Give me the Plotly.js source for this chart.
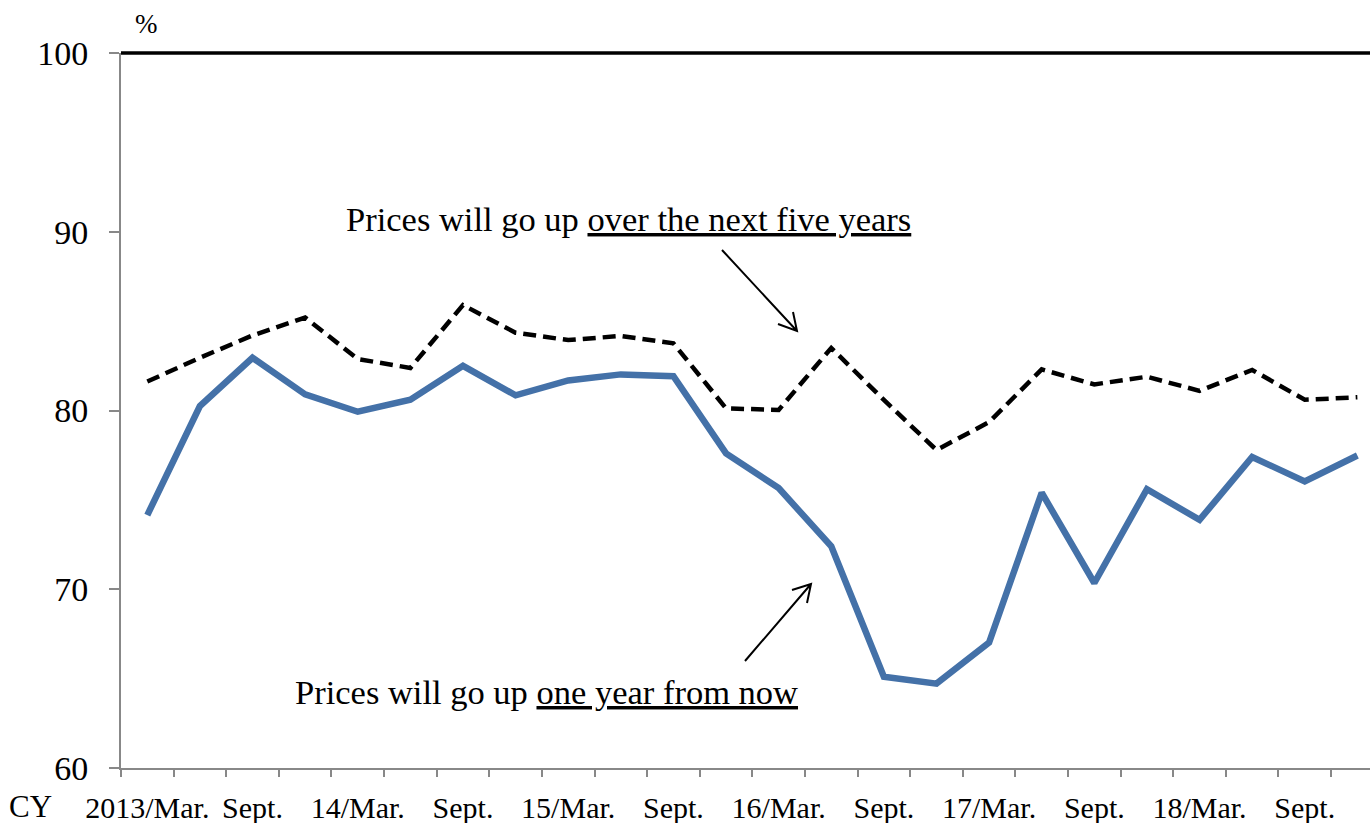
<!DOCTYPE html>
<html><head><meta charset="utf-8">
<script src="https://cdn.plot.ly/plotly-3.0.1.min.js"></script>
<style>html,body{margin:0;padding:0;background:#fff;}#chart{width:1370px;height:823px;}</style>
</head><body><div id="chart"></div>
<script>
// Quarterly survey periods, 2013 Q1 (Mar.) to 2018 Q4 (Dec.)
const periods = ["2013/Mar.","2013/Jun.","2013/Sept.","2013/Dec.",
  "2014/Mar.","2014/Jun.","2014/Sept.","2014/Dec.",
  "2015/Mar.","2015/Jun.","2015/Sept.","2015/Dec.",
  "2016/Mar.","2016/Jun.","2016/Sept.","2016/Dec.",
  "2017/Mar.","2017/Jun.","2017/Sept.","2017/Dec.",
  "2018/Mar.","2018/Jun.","2018/Sept.","2018/Dec."];
const oneYearFromNow = [74.15, 80.25, 82.95, 80.9, 79.93, 80.6, 82.5, 80.85,
  81.68, 82.02, 81.92, 77.6, 75.66, 72.4, 65.1, 64.72,
  67.02, 75.4, 70.35, 75.6, 73.88, 77.4, 76.03, 77.48];
const overNextFiveYears = [81.62, 82.95, 84.2, 85.2, 82.88, 82.38, 85.9, 84.35,
  83.94, 84.17, 83.76, 80.12, 80.03, 83.5, 80.59, 77.79,
  79.35, 82.3, 81.46, 81.89, 81.1, 82.27, 80.6, 80.74];
const tickIndex = [0, 2, 4, 6, 8, 10, 12, 14, 16, 18, 20, 22];
const tickLabels = ["2013/Mar.","Sept.","14/Mar.","Sept.","15/Mar.","Sept.",
  "16/Mar.","Sept.","17/Mar.","Sept.","18/Mar.","Sept."];
const yTicks = [60, 70, 80, 90, 100];

const xIdx = periods.map((_, i) => i);
const serif = "Liberation Serif, Times New Roman, serif";

// pixel -> paper helper for decorations (plot area 121..1370 x 53..768)
const L = 121, R = 1370, T = 53, B = 768;
function px(x) { return (x - L) / (R - L); }
function py(y) { return (B - y) / (B - T); }
function arrowPath(t, h, a1, a2) {
  return `M ${px(t[0])} ${py(t[1])} L ${px(h[0])} ${py(h[1])} M ${px(a1[0])} ${py(a1[1])} L ${px(h[0])} ${py(h[1])} L ${px(a2[0])} ${py(a2[1])}`;
}

const traces = [
  { x: xIdx, y: overNextFiveYears, type: 'scatter', mode: 'lines',
    line: { color: '#000000', width: 4.5, dash: '13px,7px' }, hoverinfo: 'skip', showlegend: false },
  { x: xIdx, y: oneYearFromNow, type: 'scatter', mode: 'lines',
    line: { color: '#4471a8', width: 6.5 }, hoverinfo: 'skip', showlegend: false }
];

const layout = {
  width: 1370, height: 823,
  margin: { l: L, r: 1370 - R, t: T, b: 823 - B, pad: 0 },
  paper_bgcolor: '#ffffff', plot_bgcolor: '#ffffff',
  showlegend: false,
  font: { family: serif, color: '#000000', size: 30 },
  xaxis: {
    range: [-0.5, 23.24], showgrid: false, zeroline: false,
    showline: true, linecolor: '#888888', linewidth: 2,
    tickmode: 'array', tickvals: tickIndex, ticktext: tickLabels,
    ticks: '', ticklabelstandoff: 12,
    tickfont: { family: serif, size: 30, color: '#000000' },
    minor: { tickmode: 'linear', tick0: -0.5, dtick: 1, ticks: 'outside', ticklen: 7, tickwidth: 2, tickcolor: '#888888', showgrid: false }
  },
  yaxis: {
    range: [60, 100], tickmode: 'array', tickvals: yTicks,
    showgrid: false, zeroline: false,
    showline: true, linecolor: '#888888', linewidth: 2,
    ticks: 'outside', ticklen: 10, tickwidth: 2, tickcolor: '#888888',
    ticklabelstandoff: 14,
    tickfont: { family: serif, size: 34, color: '#000000' }
  },
  shapes: [
    { type: 'line', xref: 'paper', yref: 'paper', x0: 0, x1: 1, y0: 1, y1: 1,
      line: { color: '#000000', width: 3.5 } },
    { type: 'path', xref: 'paper', yref: 'paper',
      path: arrowPath([722, 250], [797, 331], [778, 324], [793, 312]),
      line: { color: '#000000', width: 2 } },
    { type: 'path', xref: 'paper', yref: 'paper',
      path: arrowPath([745, 661], [811, 584], [792, 590], [807, 603]),
      line: { color: '#000000', width: 2 } }
  ],
  annotations: [
    { xref: 'paper', yref: 'paper', x: px(146), y: py(24), text: '%', showarrow: false,
      xanchor: 'center', yanchor: 'middle', font: { family: serif, size: 27, color: '#000' } },
    { xref: 'paper', yref: 'paper', x: px(30), y: py(806), text: 'CY', showarrow: false,
      xanchor: 'center', yanchor: 'middle', font: { family: serif, size: 31, color: '#000' } },
    { xref: 'paper', yref: 'paper', x: px(628), y: py(219),
      text: 'Prices will go up <span style="text-decoration:underline">over the next five years</span>',
      showarrow: false, xanchor: 'center', yanchor: 'middle', font: { family: serif, size: 34.5, color: '#000' } },
    { xref: 'paper', yref: 'paper', x: px(546), y: py(692),
      text: 'Prices will go up <span style="text-decoration:underline">one year from now</span>',
      showarrow: false, xanchor: 'center', yanchor: 'middle', font: { family: serif, size: 34.5, color: '#000' } }
  ]
};

Plotly.newPlot('chart', traces, layout, { displayModeBar: false, staticPlot: true });
</script>
</body></html>
